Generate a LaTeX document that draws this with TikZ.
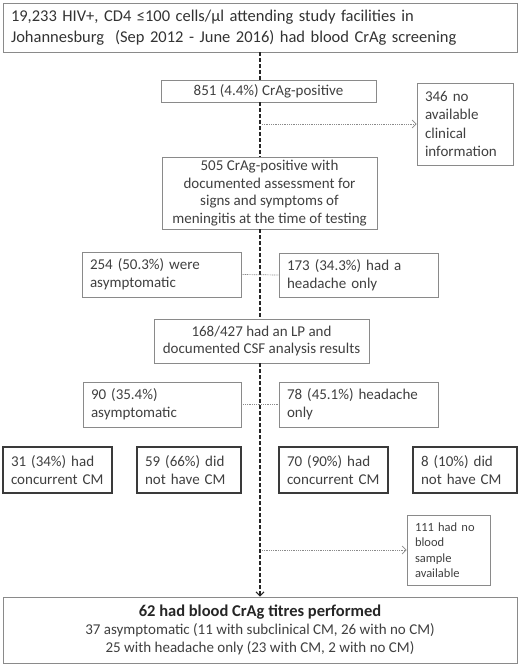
\documentclass[tikz,border=0pt]{standalone}
\usepackage{fontspec}
\setmainfont{Carlito}
\usetikzlibrary{arrows.meta,positioning}

\begin{document}
\begin{tikzpicture}[
  x=1pt,y=-1pt,
  box/.style={draw=boxGray,line width=0.9pt,text=txtGray,fill=white,align=center,inner sep=0pt,
    font=\fontsize{15}{17.7}\selectfont},
  lbox/.style={box,align=left,inner xsep=8pt,text width=#1},
  cmbox/.style={lbox=#1,draw=cmGray,line width=1.4pt},
  spine/.style={draw=black!85,line width=1.6pt,dash pattern=on 3.5pt off 2.5pt},
  side/.style={draw=boxGray,line width=0.7pt,dash pattern=on 1pt off 0.8pt},
]
\definecolor{boxGray}{HTML}{8A8A8A}
\definecolor{cmGray}{HTML}{3A3A3A}
\definecolor{txtGray}{HTML}{404040}
\useasboundingbox (0,0) rectangle (520,666);

\node[lbox=498pt,minimum height=49pt,font=\fontsize{16.5}{21}\selectfont,text=black!80] (screen) at (260,27.5)
  {19,233 HIV+, CD4 ≤100 cells/µl attending study facilities in\\Johannesburg\ \ (Sep 2012 - June 2016) had blood CrAg screening};
\node[box,minimum width=215pt,minimum height=22pt] (crag) at (268.5,91) {851 (4.4\%) CrAg-positive};
\node[lbox=80pt,minimum height=82pt,font=\fontsize{15}{18.3}\selectfont] (noinfo) at (465,124)
  {346 no\\available\\clinical\\information};
\node[box,minimum width=215pt,minimum height=72pt] (assess) at (269.5,193)
  {505 CrAg-positive with\\documented assessment for\\signs and symptoms of\\meningitis at the time of testing};

\node[lbox=143pt,minimum height=45pt] (asym) at (161.5,274.5) {254 (50.3\%) were\\asymptomatic};
\node[lbox=143pt,minimum height=44pt] (head) at (358.5,275) {173 (34.3\%) had a\\headache only};

\node[box,minimum width=215pt,minimum height=44pt] (lp) at (261.5,341)
  {168/427 had an LP and\\documented CSF analysis results};

\node[lbox=142pt,minimum height=45pt] (lpasym) at (162,404.5) {90 (35.4\%)\\asymptomatic};
\node[lbox=143pt,minimum height=45pt] (lphead) at (358.5,404.5) {78 (45.1\%) headache\\only};

% CSF outcome per group
\node[cmbox=93pt,minimum height=46pt] (asymcm) at (57.5,470) {31 (34\%) had\\concurrent CM};
\node[cmbox=88pt,minimum height=46pt] (asymno) at (189,470) {59 (66\%) did\\not have CM};
\node[cmbox=93pt,minimum height=46pt] (headcm) at (333.5,470) {70 (90\%) had\\concurrent CM};
\node[cmbox=88pt,minimum height=46pt] (headno) at (465,470) {8 (10\%) did\\not have CM};

\node[lbox=67pt,minimum height=70pt,font=\fontsize{12.5}{15.4}\selectfont] (noblood) at (448.5,550)
  {111 had no\\blood\\sample\\available};

\node[box,minimum width=514pt,minimum height=66pt,font=\fontsize{15}{18}\selectfont] (titre) at (260,630)
  {{\fontsize{16.5}{18}\selectfont\bfseries\color{black!85}62 had blood CrAg titres performed}\\
   37 asymptomatic (11 with subclinical CM, 26 with no CM)\\25 with headache only (23 with CM, 2 with no CM)};

\draw[spine] (screen.south) -- (screen.south |- crag.north);
\draw[spine] (screen.south |- crag.south) -- (screen.south |- assess.north);
\draw[spine] (screen.south |- assess.south) -- (screen.south |- lp.north);
\draw[spine,-{Straight Barb[length=4pt,width=8pt,line width=1pt]}] (screen.south |- lp.south) -- (titre.north);

\draw[side,-{Straight Barb[length=4pt,width=8pt,line width=0.7pt]}] ([xshift=2pt]noinfo.west -| screen.south) -- (noinfo.west);
\draw[side] (asym.east) -- (head.west);
\draw[side] (lpasym.east) -- (lphead.west);
\draw[side,-{Straight Barb[length=4pt,width=8pt,line width=0.7pt]}] ([xshift=2pt]noblood.west -| screen.south) -- (noblood.west);
\end{tikzpicture}
\end{document}
